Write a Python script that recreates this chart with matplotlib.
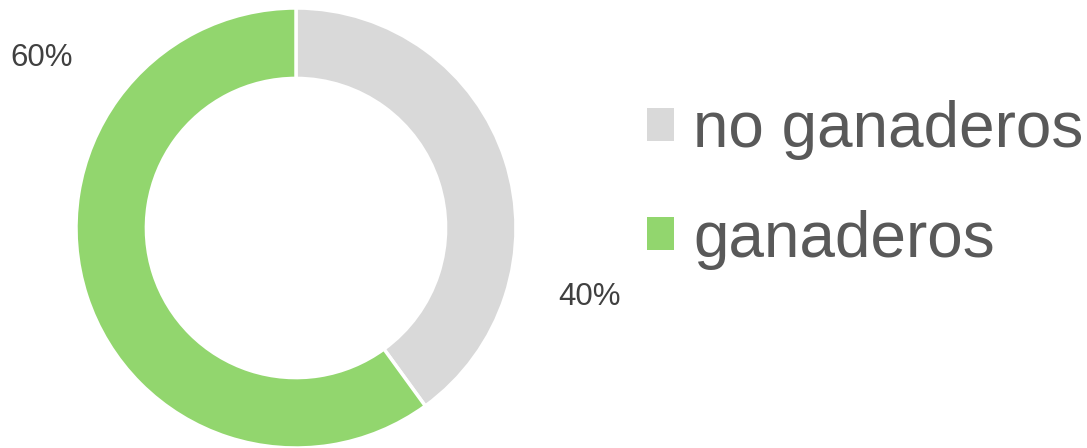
import matplotlib.pyplot as plt
from matplotlib.patches import Patch

plt.rcParams['font.family'] = ['Liberation Sans', 'DejaVu Sans']

categories = ['no ganaderos', 'ganaderos']
values = [40, 60]
colors = ['#D9D9D9', '#92D66E']
pct_labels = ['40%', '60%']

fig = plt.figure(figsize=(10.87, 4.48), dpi=100)
ax = fig.add_axes([76 / 1087, 0 / 448, 440 / 1087, 440 / 448])

wedges, _ = ax.pie(values, colors=colors, startangle=90, counterclock=False,
                   radius=1.0, wedgeprops=dict(width=0.32, edgecolor='white', linewidth=2.5))
ax.set_xlim(-1, 1)
ax.set_ylim(-1, 1)
ax.set_aspect('equal')

# percentage labels (positions as in the original, outside the ring)
ax.text(1.336, -0.314, pct_labels[0], ha='center', va='center', fontsize=22.5, color='#404040')
ax.text(-1.155, 0.772, pct_labels[1], ha='center', va='center', fontsize=22.5, color='#404040')

handles = [Patch(facecolor=c, edgecolor='none') for c in colors]
leg = fig.legend(handles, categories, loc='center left', bbox_to_anchor=(647 / 1087, 1 - 185 / 448),
                 frameon=False, fontsize=46, handlelength=0.42, handleheight=0.42,
                 handletextpad=0.3, labelspacing=0.77, borderpad=0, borderaxespad=0)
for t in leg.get_texts():
    t.set_color('#595959')

fig.savefig('out.png', dpi=100)
